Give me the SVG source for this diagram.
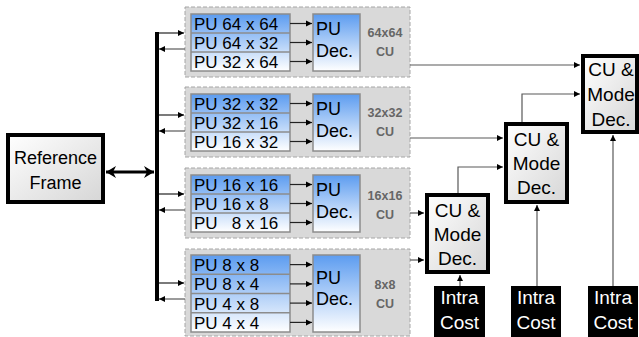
<svg xmlns="http://www.w3.org/2000/svg" width="639" height="337" viewBox="0 0 639 337">
<style>
text{font-family:"Liberation Sans",Arial,sans-serif;fill:#000}
.cu{fill:#d9d9d9;stroke:#a6a6a6;stroke-width:1;stroke-dasharray:4 2}
.pu{fill:url(#puG);stroke:#8c8c8c;stroke-width:1.5}
.row{stroke:#8c8c8c;stroke-width:1.5}
.pt{font-size:17px}
.dt{font-size:18px}
.lab{font-size:12.5px;font-weight:bold;fill:#666;text-anchor:middle}
.box{fill:url(#boxG);stroke:#000;stroke-width:4}
.bt{font-size:19px;text-anchor:middle}
.ic{fill:#000}
.it{font-size:19px;fill:#fff;text-anchor:middle}
.c{fill:none;stroke:#595959;stroke-width:1.2;marker-end:url(#ah)}
.cb{fill:none;stroke:#222;stroke-width:1.2;marker-end:url(#ah)}
</style>
<defs>
<linearGradient id="puG" x1="0" y1="0" x2="0" y2="1"><stop offset="0" stop-color="#5c9cf0"/><stop offset="1" stop-color="#ffffff"/></linearGradient>
<linearGradient id="boxG" x1="0" y1="0" x2="1" y2="1"><stop offset="0" stop-color="#ffffff"/><stop offset="1" stop-color="#d6d6d6"/></linearGradient>
<marker id="ah" markerUnits="userSpaceOnUse" markerWidth="7" markerHeight="7" refX="6" refY="3.5" orient="auto"><path d="M0,0.5 L6,3.5 L0,6.5 Z" fill="#000"/></marker>
<marker id="bh" markerUnits="userSpaceOnUse" markerWidth="12" markerHeight="12" refX="10" refY="6" orient="auto-start-reverse"><path d="M0,0 L10,6 L0,12 L3,6 Z" fill="#000"/></marker>
</defs>

<g id="ref-frame">
<rect x="8" y="135" width="95" height="67" class="box"/>
<text x="55.5" y="164" class="bt" style="font-size:18px">Reference</text>
<text x="55.5" y="189" class="bt" style="font-size:18px">Frame</text>
</g>

<g id="cu64">
<rect x="185" y="7" width="225" height="70" class="cu"/>
<rect x="191" y="14" width="99" height="57" class="pu"/>
<line x1="191" y1="33" x2="290" y2="33" class="row"/>
<line x1="191" y1="52" x2="290" y2="52" class="row"/>
<text x="194" y="30" class="pt">PU 64 x 64</text>
<text x="194" y="49" class="pt">PU 64 x 32</text>
<text x="194" y="68" class="pt">PU 32 x 64</text>
<rect x="313" y="14" width="47" height="57" class="pu"/>
<text x="316" y="35" class="dt">PU</text>
<text x="316" y="57" class="dt">Dec.</text>
<text x="385" y="37" class="lab">64x64</text>
<text x="385" y="56" class="lab">CU</text>
</g>

<g id="cu32">
<rect x="185" y="87" width="225" height="70" class="cu"/>
<rect x="191" y="94" width="99" height="57" class="pu"/>
<line x1="191" y1="113" x2="290" y2="113" class="row"/>
<line x1="191" y1="132" x2="290" y2="132" class="row"/>
<text x="194" y="110" class="pt">PU 32 x 32</text>
<text x="194" y="129" class="pt">PU 32 x 16</text>
<text x="194" y="148" class="pt">PU 16 x 32</text>
<rect x="313" y="94" width="47" height="57" class="pu"/>
<text x="316" y="115" class="dt">PU</text>
<text x="316" y="137" class="dt">Dec.</text>
<text x="385" y="117" class="lab">32x32</text>
<text x="385" y="136" class="lab">CU</text>
</g>

<g id="cu16">
<rect x="185" y="168" width="225" height="70" class="cu"/>
<rect x="191" y="175" width="99" height="57" class="pu"/>
<line x1="191" y1="194" x2="290" y2="194" class="row"/>
<line x1="191" y1="213" x2="290" y2="213" class="row"/>
<text x="194" y="191" class="pt">PU 16 x 16</text>
<text x="194" y="210" class="pt">PU 16 x 8</text>
<text x="194" y="229" class="pt" xml:space="preserve">PU   8 x 16</text>
<rect x="313" y="175" width="47" height="57" class="pu"/>
<text x="316" y="196" class="dt">PU</text>
<text x="316" y="218" class="dt">Dec.</text>
<text x="385" y="200" class="lab">16x16</text>
<text x="385" y="219" class="lab">CU</text>
</g>

<g id="cu8">
<rect x="185" y="249" width="225" height="87" class="cu"/>
<rect x="191" y="255" width="99" height="77" class="pu"/>
<line x1="191" y1="274.25" x2="290" y2="274.25" class="row"/>
<line x1="191" y1="293.5" x2="290" y2="293.5" class="row"/>
<line x1="191" y1="312.75" x2="290" y2="312.75" class="row"/>
<text x="194" y="271" class="pt">PU 8 x 8</text>
<text x="194" y="290" class="pt">PU 8 x 4</text>
<text x="194" y="309.5" class="pt">PU 4 x 8</text>
<text x="194" y="328.5" class="pt">PU 4 x 4</text>
<rect x="313" y="255" width="47" height="77" class="pu"/>
<text x="316" y="284" class="dt">PU</text>
<text x="316" y="305" class="dt">Dec.</text>
<text x="385" y="289" class="lab">8x8</text>
<text x="385" y="308" class="lab">CU</text>
</g>

<g id="mode-a">
<rect x="427" y="195" width="61" height="77" class="box"/>
<text x="457.5" y="217" class="bt">CU &amp;</text>
<text x="457.5" y="241" class="bt">Mode</text>
<text x="457.5" y="265" class="bt">Dec.</text>
</g>
<g id="mode-b">
<rect x="506" y="124" width="61" height="78" class="box"/>
<text x="536.5" y="146" class="bt">CU &amp;</text>
<text x="536.5" y="170" class="bt">Mode</text>
<text x="536.5" y="194" class="bt">Dec.</text>
</g>
<g id="mode-c">
<rect x="583" y="56" width="54" height="76" class="box"/>
<text x="611" y="76" class="bt">CU &amp;</text>
<text x="611" y="101" class="bt">Mode</text>
<text x="611" y="126" class="bt">Dec.</text>
</g>

<g id="intra-a">
<rect x="434" y="286" width="51" height="51" class="ic"/>
<text x="459.5" y="304" class="it">Intra</text>
<text x="459.5" y="329" class="it">Cost</text>
</g>
<g id="intra-b">
<rect x="511" y="286" width="50" height="51" class="ic"/>
<text x="536" y="304" class="it">Intra</text>
<text x="536" y="329" class="it">Cost</text>
</g>
<g id="intra-c">
<rect x="588" y="286" width="50" height="51" class="ic"/>
<text x="613" y="304" class="it">Intra</text>
<text x="613" y="329" class="it">Cost</text>
</g>

<g id="connectors">
<line x1="106" y1="172" x2="154" y2="172" stroke="#000" stroke-width="3" marker-start="url(#bh)" marker-end="url(#bh)"/>
<line x1="157" y1="32" x2="157" y2="301" stroke="#000" stroke-width="4"/>
<line x1="159" y1="33" x2="184" y2="33" class="cb"/>
<line x1="185" y1="49" x2="159" y2="49" class="c"/>
<line x1="159" y1="115" x2="184" y2="115" class="cb"/>
<line x1="185" y1="131" x2="159" y2="131" class="c"/>
<line x1="159" y1="194" x2="184" y2="194" class="cb"/>
<line x1="185" y1="210" x2="159" y2="210" class="c"/>
<line x1="159" y1="283" x2="184" y2="283" class="cb"/>
<line x1="185" y1="299" x2="159" y2="299" class="c"/>
<line x1="290" y1="23.5" x2="312" y2="23.5" class="cb"/>
<line x1="290" y1="42.5" x2="312" y2="42.5" class="cb"/>
<line x1="290" y1="61.5" x2="312" y2="61.5" class="cb"/>
<line x1="290" y1="103.5" x2="312" y2="103.5" class="cb"/>
<line x1="290" y1="122.5" x2="312" y2="122.5" class="cb"/>
<line x1="290" y1="141.5" x2="312" y2="141.5" class="cb"/>
<line x1="290" y1="184.5" x2="312" y2="184.5" class="cb"/>
<line x1="290" y1="203.5" x2="312" y2="203.5" class="cb"/>
<line x1="290" y1="222.5" x2="312" y2="222.5" class="cb"/>
<line x1="290" y1="264.6" x2="312" y2="264.6" class="cb"/>
<line x1="290" y1="283.9" x2="312" y2="283.9" class="cb"/>
<line x1="290" y1="303.1" x2="312" y2="303.1" class="cb"/>
<line x1="290" y1="322.4" x2="312" y2="322.4" class="cb"/>
<line x1="410" y1="65" x2="580" y2="65" class="c"/>
<polyline points="522,122 522,94 580,94" class="c"/>
<line x1="410" y1="138" x2="503" y2="138" class="c"/>
<polyline points="458,193 458,167 503,167" class="c"/>
<line x1="410" y1="213" x2="424" y2="213" class="c"/>
<line x1="410" y1="260" x2="424" y2="260" class="c"/>
<line x1="460" y1="286" x2="460" y2="275" class="c"/>
<line x1="537" y1="286" x2="537" y2="205" class="c"/>
<line x1="613" y1="286" x2="613" y2="135" class="c"/>
</g>
</svg>
